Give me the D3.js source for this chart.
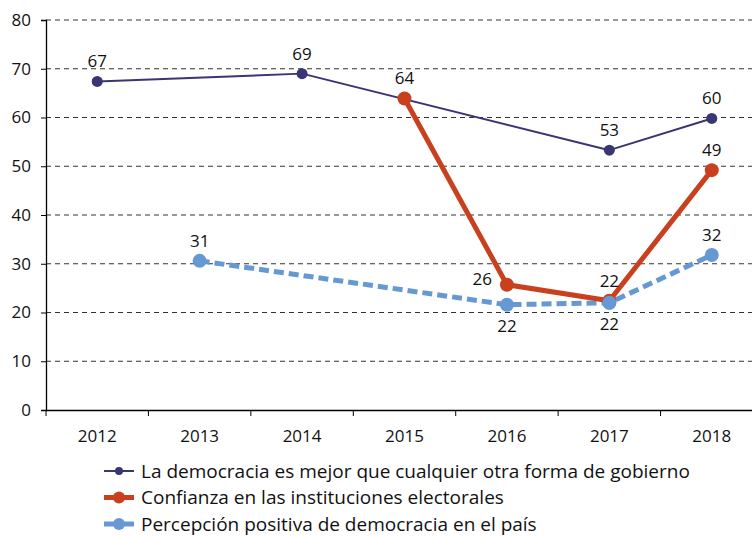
<!DOCTYPE html>
<html><head><meta charset="utf-8">
<script src="https://cdn.jsdelivr.net/npm/d3@7"></script>
<style>body{margin:0;background:#fff}svg{display:block}</style>
</head><body>
<svg id="c" width="752" height="537"></svg>
<script>
const years = ["2012","2013","2014","2015","2016","2017","2018"];
const yTicks = [0,10,20,30,40,50,60,70,80];
const democraciaMejor = [67.4, null, 69.0, null, null, 53.3, 59.8];
const democraciaMejorLabels = ["67", null, "69", null, null, "53", "60"];
const confianzaElectoral = [null, null, null, 63.9, 25.7, 22.4, 49.2];
const confianzaElectoralLabels = [null, null, null, "64", "26", "22", "49"];
const percepcionPositiva = [null, 30.6, null, null, 21.6, 22.0, 31.8];
const percepcionPositivaLabels = [null, "31", null, null, "22", "22", "32"];
const seriesNames = ["La democracia es mejor que cualquier otra forma de gobierno","Confianza en las instituciones electorales","Percepción positiva de democracia en el país"];

(function(){
const svg = d3.select("#c");
const font = "'Open Sans', sans-serif";
const mLeft = 46, mRight = 763, mTop = 20, mBottom = 410;
const x = d3.scaleBand().domain(years).range([mLeft, mRight]);
const y = d3.scaleLinear().domain([0,80]).range([mBottom, mTop]);

// grid
svg.append("g").selectAll("line").data(yTicks.filter(d=>d>0)).join("line")
  .attr("x1", mLeft).attr("x2", 752).attr("y1", d=>y(d)).attr("y2", d=>y(d))
  .attr("stroke", "#333").attr("stroke-width", 1).attr("stroke-dasharray", "5,4");

// y axis
const ya = svg.append("g").attr("transform", `translate(${mLeft},0)`)
  .call(d3.axisLeft(y).tickValues(yTicks).tickSize(5).tickPadding(10));
ya.select(".domain").attr("stroke", "#000").attr("stroke-width", 1.3);
ya.selectAll(".tick line").attr("stroke", "#000");
ya.selectAll("text").attr("font-family", font).attr("font-size", 17).attr("fill", "#111");

// x axis
const xa = svg.append("g").attr("transform", `translate(0,${mBottom})`)
  .call(d3.axisBottom(x).tickSize(0).tickPadding(20));
xa.select(".domain").attr("stroke", "#000").attr("stroke-width", 1.3);
xa.selectAll("text").attr("font-family", font).attr("font-size", 17).attr("fill", "#111");
xa.selectAll(".bnd").data(years.concat(["end"])).join("line")
  .attr("x1", (d,i)=> mLeft + i*x.step()).attr("x2", (d,i)=> mLeft + i*x.step())
  .attr("y1", 0).attr("y2", 6).attr("stroke", "#000");

const cx = d => x(d) + x.bandwidth()/2;

function series(vals, labs, color, width, dash, r, labelPos) {
  const pts = years.map((yr,i)=>({yr, v: vals[i], lab: labs[i], pos: labelPos[i]})).filter(d=>d.v!=null);
  const line = d3.line().x(d=>cx(d.yr)).y(d=>y(d.v));
  svg.append("path").datum(pts).attr("d", line).attr("fill","none")
    .attr("stroke", color).attr("stroke-width", width).attr("stroke-dasharray", dash || null)
    .attr("stroke-linejoin","round");
  svg.append("g").selectAll("circle").data(pts).join("circle")
    .attr("cx", d=>cx(d.yr)).attr("cy", d=>y(d.v)).attr("r", r).attr("fill", color);
  return pts;
}
function labels(pts) {
  svg.append("g").selectAll("text").data(pts.filter(d=>d.lab)).join("text")
    .attr("x", d=>cx(d.yr) + (d.pos==="left" ? -15 : 0))
    .attr("y", d=>y(d.v) + (d.pos==="below" ? 27 : d.pos==="left" ? 0 : -14))
    .attr("text-anchor", d=>d.pos==="left" ? "end" : "middle")
    .attr("font-family", font).attr("font-size", 17).attr("fill", "#111")
    .text(d=>d.lab);
}

const navy = "#3a3573", red = "#c8401e", blue = "#6699d3";
const p1 = series(democraciaMejor, democraciaMejorLabels, navy, 2, null, 5.5,
  ["above","above","above","above","above","above","above"]);
const p3 = series(percepcionPositiva, percepcionPositivaLabels, blue, 5, "10,5", 7,
  ["above","above","above","above","below","below","above"]);
const p2 = series(confianzaElectoral, confianzaElectoralLabels, red, 5, null, 7,
  ["above","above","above","above","left","above","above"]);
svg.append("circle").attr("cx", cx("2017")).attr("cy", y(percepcionPositiva[5])).attr("r", 7).attr("fill", blue);
labels(p1); labels(p2); labels(p3);

// legend
const legend = [
  {name: seriesNames[0], color: navy, w: 2, r: 4},
  {name: seriesNames[1], color: red, w: 5, r: 6},
  {name: seriesNames[2], color: blue, w: 5, r: 6}
];
const lg = svg.append("g").selectAll("g").data(legend).join("g")
  .attr("transform", (d,i)=>`translate(104,${471 + i*26.5})`);
lg.append("line").attr("x1",0).attr("x2",30).attr("y1",0).attr("y2",0)
  .attr("stroke", d=>d.color).attr("stroke-width", d=>d.w);
lg.append("circle").attr("cx",15).attr("cy",0).attr("r", d=>d.r).attr("fill", d=>d.color);
lg.append("text").attr("x", 37).attr("y", 0).attr("dy","0.35em")
  .attr("font-family", font).attr("font-size", 19).attr("fill","#111").text(d=>d.name);
})();
</script>
</body></html>
